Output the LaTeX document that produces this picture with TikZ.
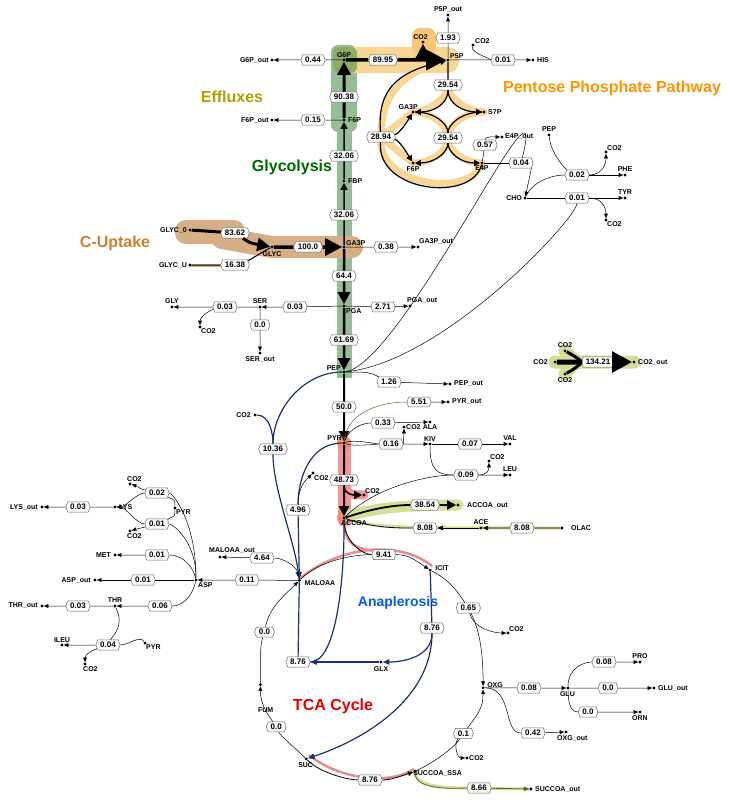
\documentclass[tikz,border=0pt]{standalone}
\usepackage{fontspec}
\setmainfont{Liberation Sans}
\usetikzlibrary{arrows.meta,shapes.symbols,positioning}
\pgfdeclarelayer{hl}
\pgfsetlayers{hl,main}
\definecolor{gly}{RGB}{150,190,150}
\definecolor{ppp}{RGB}{248,215,150}
\definecolor{cup}{RGB}{215,175,135}
\definecolor{pink}{RGB}{242,150,150}
\definecolor{olv}{RGB}{215,220,150}
\definecolor{ana}{RGB}{25,50,110}
\definecolor{tca}{RGB}{230,140,140}
\newcommand\met[4]{\node[dot] (#1) at (#2) {}; \node[mt,#4] (#1t) at (#1) {#3};}
\newcommand\fl[3]{\node[fx] (#1) at (#2) {#3};}
\begin{document}
\begin{tikzpicture}[x=1pt,y=-1pt,
  dot/.style={circle,fill=black,inner sep=0pt,minimum size=3.2pt},
  mt/.style={font=\fontsize{7}{8}\selectfont\bfseries,inner sep=1pt},
  fx/.style={signal,signal to=east and west,signal pointer angle=140,draw=black!60,fill=white,font=\fontsize{8}{9}\selectfont\bfseries,inner xsep=2.5pt,inner ysep=2.2pt,line width=0.5pt},
  e/.style={line width=0.5pt},
  a/.style={-{Triangle[length=3pt 3,width=2.5pt 2.5]}},
  A/.style={-{Triangle[length=#1pt,width=#1pt]}},
  bl/.style={draw=ana,line width=1.2pt},
  ttl/.style={font=\fontsize{16}{18}\selectfont\bfseries}]
\useasboundingbox (0,0) rectangle (730,800);
% ---------- metabolites main column
\met{G6P}{344,60}{G6P}{above=1pt}
\met{F6P}{344,120}{F6P}{right=3pt}
\met{FBP}{344,181}{FBP}{right=3pt}
\met{GA3P}{344,247}{GA3P}{above right=0pt and 1pt}
\met{PGA}{344,306}{PGA}{below right=1pt and 1pt}
\met{PEP}{344,372}{PEP}{left=2pt,yshift=4pt}
\met{PYR}{344,443}{PYR}{left=1pt,yshift=5pt}
\met{ACCOA}{344,518}{ACCOA}{below right=1pt and -4pt}
\met{G6Pout}{272,60}{G6P\_out}{left=2pt}
\met{F6Pout}{272,120}{F6P\_out}{left=2pt}
\met{P5P}{448,60}{P5P}{above right=0pt and 1pt}
\met{CO2a}{423,42}{CO2}{above left=1pt and -6pt}
\met{P5Pout}{448,15}{P5P\_out}{above=1pt}
\met{CO2b}{473,45}{CO2}{above right=0pt and 1pt}
\met{HIS}{533,60}{HIS}{right=3pt}
\met{GA3Pp}{413,112}{GA3P}{above left=1pt and -6pt}
\met{S7P}{484,112}{S7P}{right=3pt}
\met{F6Pp}{413,163}{F6P}{below=2pt}
\met{E4P}{482,163}{E4P}{below=1pt}
\met{E4Pout}{502,137}{E4P\_out}{right=2pt}
\met{CHO}{525,198}{CHO}{left=2pt}
\met{PEPp}{549,135}{PEP}{above=2pt}
\met{CO2c}{606,152}{CO2}{above right=0pt and 0pt}
\met{PHE}{625,175}{PHE}{above=2pt}
\met{TYR}{625,198}{TYR}{above=2pt}
\met{CO2d}{606,220}{CO2}{below right=0pt and 0pt}
\met{GLYC0}{190,230}{GLYC\_0}{left=2pt}
\met{GLYC}{272,247}{GLYC}{below=3pt}
\met{GLYCU}{190,265}{GLYC\_U}{left=2pt}
\met{GA3Pout}{418,247}{GA3P\_out}{above right=1pt and 0pt}
\met{PGAout}{410,306}{PGA\_out}{above right=1pt and -4pt}
\met{SER}{260,307}{SER}{above=2pt}
\met{GLY}{172,307}{GLY}{above=2pt}
\met{CO2e}{200,327}{CO2}{below right=0pt and 0pt}
\met{SERout}{260,353}{SER\_out}{below=2pt}
\met{PEPout}{450,384}{PEP\_out}{right=3pt}
\met{PYRout}{448,402}{PYR\_out}{right=3pt}
\met{ALA}{430,422}{ALA}{below=1pt}
\met{CO2f}{404,427}{CO2}{right=1pt}
\met{KIV}{430,444}{KIV}{above=1pt}
\met{VAL}{510,444}{VAL}{above=2pt}
\met{CO2g}{489,461}{CO2}{above right=0pt and 0pt}
\met{LEU}{510,475}{LEU}{above=2pt}
\met{CO2h}{364,495}{CO2}{above right=0pt and 0pt}
\met{ACCOAout}{458,505}{ACCOA\_out}{right=8pt}
\met{ACE}{481,528}{ACE}{above=2pt}
\met{OLAC}{562,528}{OLAC}{right=8pt}
\met{CO2L}{555,362}{CO2}{left=6pt}
\met{CO2T}{565,351}{CO2}{above=2pt}
\met{CO2B}{565,374}{CO2}{below=2pt}
\met{CO2out}{634,362}{CO2\_out}{right=3pt}
\met{CO2i}{255,415}{CO2}{left=3pt}
\met{CO2j}{313,473}{CO2}{below right=1pt and 0pt}
% TCA
\begin{scope}[shift={(372,667)}]
\met{MALOAA}{-130:113}{MALOAA}{below right=-1pt and 4pt}
\met{ICIT}{-59:113}{ICIT}{above right=-2pt and 4pt}
\met{OXG}{10.6:113}{OXG}{above right=-1pt and 3pt}
\met{SUCCOA}{67.6:113}{SUCCOA\_SSA}{below right=-2pt and -3pt}
\met{SUC}{125.6:113}{SUC}{below left=3pt and -8pt}
\met{FUM}{171:113}{FUM}{below left=22pt and -14pt}
\fl{f941}{-84:113}{9.41}
\fl{f065}{-31.5:113}{0.65}
\fl{f01}{36:113}{0.1}
\fl{f876c}{91:113}{8.76}
\fl{f00a}{148:113}{0.0}
\fl{f00b}{-162:113}{0.0}
\end{scope}
\met{CO2k}{508,633}{CO2}{above right=0pt and 0pt}
\met{GLX}{381,662}{GLX}{below=3pt}
\met{GLU}{568,688}{GLU}{below left=2pt and -8pt}
\met{PRO}{640,662}{PRO}{above=2pt}
\met{GLUout}{654,688}{GLU\_out}{right=3pt}
\met{ORN}{640,712}{ORN}{below=2pt}
\met{OXGout}{566,732}{OXG\_out}{below right=2pt and -10pt}
\met{CO2m}{467,758}{CO2}{right=1pt}
\met{SUCCOAout}{531,789}{SUCCOA\_out}{right=3pt}
% left amino acids
\met{ASP}{196,580}{ASP}{below right=1pt and 1pt}
\met{MALOAAout}{220,557}{MALOAA\_out}{above right=2pt and -12pt}
\met{ASPout}{95,580}{ASP\_out}{left=3pt}
\met{MET}{115,555}{MET}{left=3pt}
\met{LYS}{115,507}{LYS}{right=3pt}
\met{CO2n}{130,484}{CO2}{above right=1pt and -4pt}
\met{CO2o}{130,531}{CO2}{below right=1pt and -4pt}
\met{PYRa}{175,508}{PYR}{below right=0pt and 0pt}
\met{LYSout}{42,507}{LYS\_out}{left=3pt}
\met{THR}{115,606}{THR}{above=2pt}
\met{THRout}{42,606}{THR\_out}{left=3pt}
\met{ILEU}{62,645}{ILEU}{above=1pt}
\met{PYRb}{145,643}{PYR}{below right=0pt and 0pt}
\met{CO2p}{85,664}{CO2}{below right=1pt and -3pt}
% ---------- flux labels
\fl{f9038}{344,97}{90.38}
\fl{f3206a}{344,156}{32.06}
\fl{f3206b}{344,215}{32.06}
\fl{f644}{344,276}{64.4}
\fl{f6169}{344,340}{61.69}
\fl{f500}{344,407}{50.0}
\fl{f4873}{344,480}{48.73}
\fl{f044}{313,60}{0.44}
\fl{f015}{313,120}{0.15}
\fl{f8995}{383,60}{89.95}
\fl{f193}{448,38}{1.93}
\fl{f001h}{503,60}{0.01}
\fl{f2954a}{448,85}{29.54}
\fl{f2954b}{448,138}{29.54}
\fl{f2894}{381,137}{28.94}
\fl{f057}{485,145}{0.57}
\fl{f004}{521,163}{0.04}
\fl{f002}{577,175}{0.02}
\fl{f001t}{577,198}{0.01}
\fl{f8362}{235,233}{83.62}
\fl{f1000}{308,247}{100.0}
\fl{f1638}{235,265}{16.38}
\fl{f038}{386,247}{0.38}
\fl{f271}{383,307}{2.71}
\fl{f003s}{295,307}{0.03}
\fl{f003g}{225,307}{0.03}
\fl{f00s}{260,325}{0.0}
\fl{f126}{389,382}{1.26}
\fl{f551}{419,402}{5.51}
\fl{f033}{383,423}{0.33}
\fl{f016}{391,444}{0.16}
\fl{f007}{470,444}{0.07}
\fl{f009}{466,475}{0.09}
\fl{f3854}{425,505}{38.54}
\fl{f808a}{425,528}{8.08}
\fl{f808b}{522,528}{8.08}
\fl{f13421}{598,362}{134.21}
\fl{f1036}{273,449}{10.36}
\fl{f496}{298,510}{4.96}
\fl{f876a}{432,628}{8.76}
\fl{f876b}{298,662}{8.76}
\fl{f008g}{529,688}{0.08}
\fl{f008p}{604,662}{0.08}
\fl{f00gl}{608,688}{0.0}
\fl{f00o}{588,712}{0.0}
\fl{f042}{533,733}{0.42}
\fl{f866}{479,788}{8.66}
\fl{f464}{262,558}{4.64}
\fl{f011}{247,580}{0.11}
\fl{f001a}{143,580}{0.01}
\fl{f001m}{157,555}{0.01}
\fl{f002l}{157,493}{0.02}
\fl{f001l}{157,524}{0.01}
\fl{f003l}{78,507}{0.03}
\fl{f006}{160,606}{0.06}
\fl{f003t}{78,606}{0.03}
\fl{f004i}{108,645}{0.04}
% ---------- highlights
\begin{pgfonlayer}{hl}
\draw[gly,line width=15pt] (344,60)--(344,378);
\fill[gly,rounded corners=7pt] (331,45) rectangle (357,132);
\fill[ppp,rounded corners=11pt] (333,47) rectangle (459,73);
\fill[ppp!80!orange,rounded corners=8pt] (412,28) rectangle (436,54);
\fill[gly!70!olive,rounded corners=6pt] (333,47) rectangle (357,73);
\draw[ppp,line width=7pt,line cap=round] (448,85) .. controls (448,100) and (470,112) .. (484,112) (448,85) .. controls (448,100) and (426,112) .. (413,112)
 (413,112) .. controls (430,112) and (448,124) .. (448,138) .. controls (448,152) and (430,163) .. (413,163)
 (484,112) .. controls (466,112) and (448,124) .. (448,138) .. controls (448,152) and (466,163) .. (482,163)
 (482,163) .. controls (472,198) and (376,187) .. (381,137) .. controls (381,87) and (410,70) .. (448,60)
 (381,137) -- (413,112) (381,137) -- (413,163);
\fill[cup,rounded corners=11pt] (175,220) rectangle (245,244);
\draw[cup,line width=22pt,line cap=round] (222,238) -- (272,247) -- (352,247);
\draw[cup,line width=3pt] (190,265) -- (235,265);
\draw[pink,line width=13pt,line cap=round] (344,443) -- (344,520);
\draw[pink,line width=9pt,line cap=round] (344,478) .. controls (344,495) and (350,495) .. (364,495);
\fill[pink!70!orange] (344,443) circle (7pt);
\fill[pink!70!orange] (344,518) circle (7pt);
\draw[olv,line width=11pt,line cap=round] (350,515) .. controls (380,508) and (400,505) .. (458,505);
\draw[olv,line width=3pt] (350,520) .. controls (380,528) and (400,528) .. (562,528);
\draw[olv,line width=13pt,line cap=round] (555,362) -- (634,362) (565,351) .. controls (575,362) .. (590,362) (565,374) .. controls (575,362) .. (590,362);
\draw[olv,line width=3pt] (414,769) .. controls (416,790) and (440,788) .. (531,789);
\draw[tca,line width=2.5pt] (298,580) .. controls (340,545) and (400,540) .. (432,566);
\draw[tca,line width=2.5pt] (309,755) .. controls (340,780) and (390,785) .. (414,769);
\draw[tca,line width=2.5pt] (344,518) .. controls (344,540) and (350,551) .. (384,551);
\end{pgfonlayer}
% ---------- edges glycolysis
\draw[line width=3pt,A=13] (F6P) -- (f9038) -- (G6P);
\draw[line width=1.5pt,A=7] (FBP) -- (f3206a) -- (F6P);
\draw[line width=1.5pt,A=7] (GA3P) -- (f3206b) -- (FBP);
\draw[line width=2.5pt,A=12] (GA3P) -- (f644) -- (PGA);
\draw[line width=2.5pt,A=12] (PGA) -- (f6169) -- (PEP);
\draw[line width=2pt,A=10] (PEP) -- (f500) -- (PYR);
\draw[line width=2pt,A=10] (PYR) -- (f4873) -- (ACCOA);
\draw[line width=1.5pt,A=8] (f4873) .. controls +(0,15) and +(-10,0) .. (CO2h);
\draw[e,a] (G6P) -- (f044) -- (G6Pout);
\draw[e,a] (F6P) -- (f015) -- (F6Pout);
\draw[line width=3.5pt,A=20] (G6P) -- (f8995) -- (P5P);
\draw[line width=2pt,A=14] (f8995) .. controls +(30,0) and +(0,15) .. (CO2a);
\draw[e,a] (P5P) -- (f193) -- (P5Pout);
\draw[e,a] (P5P) -- (f001h) -- (HIS);
\draw[e] (CO2b) .. controls +(-3,8) and +(-8,0) .. (f001h);
% pentose
\draw[line width=1.2pt] (P5P) -- (f2954a);
\draw[line width=1.2pt,A=6] (f2954a) .. controls +(0,18) and +(22,0) .. (GA3Pp);
\draw[line width=1.2pt,A=6] (f2954a) .. controls +(0,18) and +(-22,0) .. (S7P);
\draw[line width=1.2pt] (GA3Pp) .. controls +(22,0) and +(0,-14) .. (f2954b);
\draw[line width=1.2pt] (S7P) .. controls +(-22,0) and +(0,-14) .. (f2954b);
\draw[line width=1.2pt,A=6] (f2954b) .. controls +(0,14) and +(22,0) .. (F6Pp);
\draw[line width=1.2pt,A=6] (f2954b) .. controls +(0,14) and +(-22,0) .. (E4P);
\draw[line width=1.2pt] (E4P) .. controls +(-10,40) and +(-5,55) .. (f2894);
\draw[line width=1.2pt,A=6] (f2894) .. controls +(-5,-55) and +(-40,10) .. (P5P);
\draw[line width=1.2pt,A=6] (f2894) .. controls +(18,-3) and +(-6,10) .. (GA3Pp);
\draw[line width=1.2pt,A=6] (f2894) .. controls +(18,3) and +(-6,-10) .. (F6Pp);
\draw[e] (E4P) -- (f057);
\draw[e,a] (f057) .. controls +(0,-9) and +(-8,0) .. (E4Pout);
\draw[e] (E4P) -- (f004);
\draw[e,a] (f004.south east) -- (CHO);
\draw[e] (PEP) .. controls +(60,-10) and +(30,-120) .. (f004);
\draw[e] (PEP) .. controls +(100,-10) and +(0,20) .. (f001t);
\draw[e,a] (CHO) -- (f001t) -- (TYR);
\draw[e] (CHO) .. controls +(10,-20) and +(-20,0) .. (f002);
\draw[e] (PEPp) .. controls +(2,20) and +(-10,-5) .. (f002);
\draw[e,a] (f002) -- (PHE);
\draw[e,a] (f002) .. controls +(25,0) and +(0,12) .. (CO2c);
\draw[e,a] (f001t) .. controls +(25,0) and +(0,-12) .. (CO2d);
% uptake
\draw[line width=3pt] (GLYC0) -- (f8362);
\draw[line width=3pt,A=13] (f8362) .. controls +(15,10) .. (GLYC);
\draw[line width=1pt] (GLYCU) -- (f1638);
\draw[line width=1pt] (f1638) .. controls +(15,-5) and +(-10,5) .. (GLYC);
\draw[line width=3.5pt,A=17] (GLYC) -- (f1000) -- (GA3P);
\draw[e,a] (GA3P) -- (f038) -- (GA3Pout);
\draw[e,a] (PGA) -- (f271) -- (PGAout);
\draw[e,a] (PGA) -- (f003s) -- (SER);
\draw[e,a] (SER) -- (f003g) -- (GLY);
\draw[e,a] (f003g) .. controls +(-15,3) and +(0,-10) .. (CO2e);
\draw[e,a] (SER) -- (f00s) -- (SERout);
\draw[e,a] (PEP) .. controls +(25,0) .. (f126) -- (PEPout);
\draw[e,a] (f551) -- (PYRout);
\draw[e,draw=olive!60!black,a] (f551) .. controls +(-40,0) and +(5,-30) .. (PYR);
\draw[e] (PYR) .. controls +(5,-15) and +(-20,0) .. (f033);
\draw[e,a] (f033) -- (ALA);
\draw[e] (PYR) .. controls +(10,-4) and +(-15,0) .. (f016);
\draw[e] (PYR) .. controls +(10,4) and +(-15,0) .. (f016);
\draw[e,a] (f016) .. controls +(12,0) and +(0,10) .. (CO2f);
\draw[e,a] (f016) -- (KIV);
\draw[e,a] (KIV) -- (f007) -- (VAL);
\draw[e] (KIV) .. controls +(0,25) and +(-30,0) .. (f009);
\draw[e,a] (f009) -- (LEU);
\draw[e,a] (f009) .. controls +(20,0) and +(0,10) .. (CO2g);
\draw[e] (ACCOA) .. controls +(30,-30) and +(-40,0) .. (f009);
\draw[line width=1.8pt,A=9] (ACCOA) .. controls +(30,-10) and +(-30,0) .. (f3854) -- (ACCOAout);
\draw[line width=0.8pt] (ACCOA) .. controls +(30,10) and +(-30,0) .. (f808a);
\draw[line width=0.8pt,a] (ACE) -- (f808a);
\draw[line width=0.8pt,a] (OLAC) -- (f808b) -- (ACE);
\draw[line width=0.8pt] (ACCOA) .. controls +(0,25) and +(-20,0) .. (f941);
% CO2 out
\draw[line width=5pt] (CO2L) -- (f13421);
\draw[line width=3pt] (CO2T) .. controls +(10,5) and +(-15,0) .. (f13421);
\draw[line width=3pt] (CO2B) .. controls +(10,-5) and +(-15,0) .. (f13421);
\draw[line width=5pt,A=20] (f13421) -- (CO2out);
% anaplerosis
\draw[bl] (PEP) .. controls +(-40,0) and +(0,-40) .. (f1036);
\draw[bl] (CO2i) .. controls +(15,0) and +(0,-15) .. (f1036);
\draw[bl,a] (f1036) .. controls +(0,40) and +(-5,-40) .. (MALOAA);
\draw[bl] (PYR) .. controls +(-35,0) and +(0,-30) .. (f496);
\draw[e,a] (f496) .. controls +(0,-25) and +(-5,5) .. (CO2j);
\draw[bl,a] (f496) -- (MALOAA);
\draw[bl] (MALOAA) -- (f876b);
\draw[bl] (f876b) .. controls +(40,0) and +(0,40) .. (344,530) -- (ACCOA);
\draw[bl,a] (GLX) -- (f876b);
\draw[bl] (ICIT) -- (f876a);
\draw[bl,a] (f876a) .. controls +(0,30) and +(20,0) .. (GLX);
\draw[bl,a] (f876a) .. controls +(0,70) and +(60,-20) .. (SUC);
% TCA
\draw[e] (MALOAA) .. controls +(20,-20) and +(-30,0) .. (f941);
\draw[e,a] (f941) .. controls +(25,0) and +(-15,-10) .. (ICIT);
\draw[e] (ICIT) .. controls +(20,10) and +(-10,-15) .. (f065);
\draw[e,a] (f065) .. controls +(10,20) and +(0,-40) .. (OXG);
\draw[e,a] (f065) .. controls +(5,20) and +(-15,0) .. (CO2k);
\draw[e,a] (SUCCOA) .. controls +(20,-10) and +(-10,15) .. (f01) .. controls +(15,-20) and +(0,20) .. (OXG);
\draw[e,a] (f01) .. controls +(-10,10) and +(-10,0) .. (CO2m);
\draw[line width=0.8pt] (SUC) .. controls +(15,15) and +(-20,0) .. (f876c);
\draw[line width=0.8pt,a] (f876c) .. controls +(20,0) and +(-15,5) .. (SUCCOA);
\draw[e] (SUC) .. controls +(-10,-10) and +(5,10) .. (f00a);
\draw[e,a] (f00a) .. controls +(-8,-12) and +(0,20) .. (FUM);
\draw[e] (FUM) .. controls +(0,-20) and +(-5,15) .. (f00b);
\draw[e,a] (f00b) .. controls +(5,-25) and +(-15,15) .. (MALOAA);
\draw[line width=0.8pt,draw=olive!60!black,a] (SUCCOA) .. controls +(0,20) and +(-20,0) .. (f866) -- (SUCCOAout);
\draw[e,a] (OXG) -- (f008g) -- (GLU);
\draw[e] (OXG) .. controls +(30,0) and +(-30,0) .. (f042);
\draw[e,a] (f042) -- (OXGout);
\draw[e] (GLU) .. controls +(0,-20) and +(-20,0) .. (f008p);
\draw[e,a] (f008p) -- (PRO);
\draw[e,a] (GLU) -- (f00gl) -- (GLUout);
\draw[e] (GLU) .. controls +(0,20) and +(-15,0) .. (f00o);
\draw[e,a] (f00o) -- (ORN);
% left
\draw[e,a] (MALOAA) .. controls +(0,-15) and +(20,0) .. (f464) -- (MALOAAout);
\draw[e,a] (MALOAA) -- (f011) -- (ASP);
\draw[e,a] (ASP) -- (f001a) -- (ASPout);
\draw[e] (ASP) .. controls +(-5,-20) and +(20,0) .. (f001m);
\draw[e,a] (f001m) -- (MET);
\draw[e] (ASP) .. controls +(0,-60) and +(15,0) .. (f002l);
\draw[e] (ASP) .. controls +(0,-40) and +(15,0) .. (f001l);
\draw[e] (PYRa) .. controls +(0,-8) .. (f002l);
\draw[e] (PYRa) .. controls +(0,8) .. (f001l);
\draw[e,a] (f002l) .. controls +(-20,-5) and +(10,3) .. (CO2n);
\draw[e,a] (f001l) .. controls +(-20,5) and +(10,-3) .. (CO2o);
\draw[e,a] (f002l) .. controls +(-20,0) and +(10,0) .. (LYS);
\draw[e,a] (f001l) .. controls +(-20,0) and +(10,0) .. (LYS);
\draw[e,a] (LYS) -- (f003l) -- (LYSout);
\draw[e] (ASP) .. controls +(-5,20) and +(20,0) .. (f006);
\draw[e,a] (f006) -- (THR);
\draw[e,a] (THR) -- (f003t) -- (THRout);
\draw[e] (THR) .. controls +(10,20) and +(5,-10) .. (f004i);
\draw[e] (PYRb) .. controls +(-5,-8) and +(20,0) .. (f004i);
\draw[e,a] (f004i) -- (ILEU);
\draw[e,a] (f004i) .. controls +(-15,5) and +(0,-10) .. (CO2p);
% titles
\node[ttl,text=olive!75!yellow] (tEff) at (232,97) {Effluxes};
\node[ttl,text=green!40!black] (tGly) at (292,167) {Glycolysis};
\node[ttl,text=brown!80!orange] (tCup) at (115,243) {C-Uptake};
\node[ttl,text=orange!85!yellow] (tPPP) at (612,88) {Pentose Phosphate Pathway};
\node[ttl,text=blue!60!cyan!90!black,font=\fontsize{14}{16}\selectfont\bfseries] (tAna) at (398,603) {Anaplerosis};
\node[ttl,text=red!90!black] (tTCA) at (333,706) {TCA Cycle};
\end{tikzpicture}
\end{document}
